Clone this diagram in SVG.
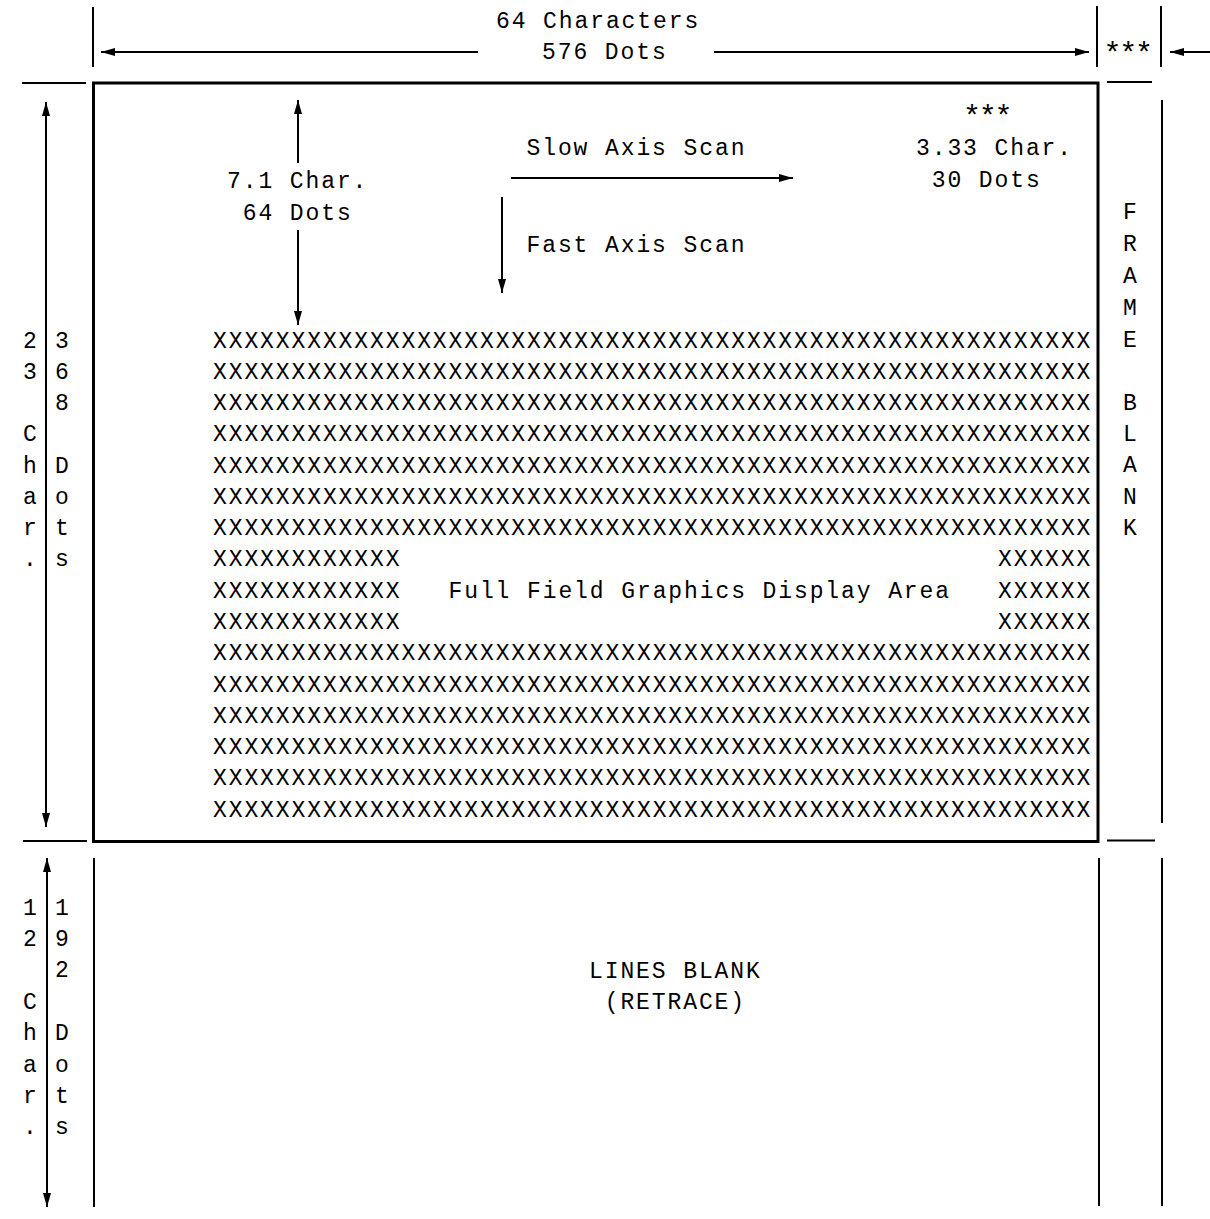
<svg xmlns="http://www.w3.org/2000/svg" width="1210" height="1219" viewBox="0 0 1210 1219">
<style>
.t{font-family:"Liberation Mono","DejaVu Sans Mono",monospace;font-size:23px;letter-spacing:1.9px;fill:#000}
.ast{font-size:30px;letter-spacing:-2.3px}
.l{stroke:#000;stroke-width:2;fill:none}
.b{stroke:#000;stroke-width:3;fill:none}
</style>
<defs>
<marker id="ah" viewBox="0 0 14 8" refX="14" refY="4" markerWidth="14" markerHeight="8" markerUnits="userSpaceOnUse" orient="auto-start-reverse">
<path d="M0,0 L14,4 L0,8 z" fill="#000"/>
</marker>
</defs>
<rect width="1210" height="1219" fill="#fff"/>
<g id="connectors">
<line class="l" x1="93" y1="7" x2="93" y2="67"/>
<line class="l" x1="478" y1="52" x2="101" y2="52" marker-end="url(#ah)"/>
<line class="l" x1="714" y1="52" x2="1089" y2="52" marker-end="url(#ah)"/>
<line class="l" x1="1097" y1="6" x2="1097" y2="67"/>
<line class="l" x1="1161" y1="6" x2="1161" y2="67"/>
<line class="l" x1="1210" y1="52" x2="1170" y2="52" marker-end="url(#ah)"/>
<line class="l" x1="22" y1="83" x2="86" y2="83"/>
<line class="l" x1="1107" y1="82" x2="1152" y2="82"/>
<line class="l" x1="46" y1="102" x2="46" y2="827" marker-start="url(#ah)" marker-end="url(#ah)"/>
<line class="l" x1="1162" y1="100" x2="1162" y2="823"/>
<line class="l" x1="23" y1="841" x2="87" y2="841"/>
<line class="l" x1="1107" y1="840.5" x2="1155" y2="840.5"/>
<line class="l" x1="47" y1="858" x2="47" y2="1207" marker-start="url(#ah)" marker-end="url(#ah)"/>
<line class="l" x1="94" y1="858" x2="94" y2="1207"/>
<line class="l" x1="1099" y1="858" x2="1099" y2="1206"/>
<line class="l" x1="1162" y1="858" x2="1162" y2="1206"/>
<line class="l" x1="298" y1="163" x2="298" y2="100" marker-end="url(#ah)"/>
<line class="l" x1="298" y1="230" x2="298" y2="325" marker-end="url(#ah)"/>
<line class="l" x1="511" y1="178" x2="793" y2="178" marker-end="url(#ah)"/>
<line class="l" x1="502" y1="197" x2="502" y2="293" marker-end="url(#ah)"/>
</g>
<g id="top-dimension">
<text class="t" x="496" y="28">64 Characters</text>
<text class="t" x="542" y="59">576 Dots</text>
<text class="t ast" x="1103.5" y="63">***</text>
</g>
<g id="display-frame">
<rect class="b" x="93.5" y="83" width="1004.5" height="758.5"/>
</g>
<g id="frame-labels">
<text class="t ast" x="963" y="126">***</text>
<text class="t" x="916" y="155">3.33 Char.</text>
<text class="t" x="931.7" y="186.5">30 Dots</text>
<text class="t" x="227" y="187.5">7.1 Char.</text>
<text class="t" x="242.7" y="219.5">64 Dots</text>
<text class="t" x="526.5" y="155">Slow Axis Scan</text>
<text class="t" x="526.5" y="251.5">Fast Axis Scan</text>
</g>
<g id="display-area">
<text class="t" x="213" y="347.5">XXXXXXXXXXXXXXXXXXXXXXXXXXXXXXXXXXXXXXXXXXXXXXXXXXXXXXXX</text>
<text class="t" x="213" y="378.8">XXXXXXXXXXXXXXXXXXXXXXXXXXXXXXXXXXXXXXXXXXXXXXXXXXXXXXXX</text>
<text class="t" x="213" y="410">XXXXXXXXXXXXXXXXXXXXXXXXXXXXXXXXXXXXXXXXXXXXXXXXXXXXXXXX</text>
<text class="t" x="213" y="441.3">XXXXXXXXXXXXXXXXXXXXXXXXXXXXXXXXXXXXXXXXXXXXXXXXXXXXXXXX</text>
<text class="t" x="213" y="472.6">XXXXXXXXXXXXXXXXXXXXXXXXXXXXXXXXXXXXXXXXXXXXXXXXXXXXXXXX</text>
<text class="t" x="213" y="503.9">XXXXXXXXXXXXXXXXXXXXXXXXXXXXXXXXXXXXXXXXXXXXXXXXXXXXXXXX</text>
<text class="t" x="213" y="535.1">XXXXXXXXXXXXXXXXXXXXXXXXXXXXXXXXXXXXXXXXXXXXXXXXXXXXXXXX</text>
<text class="t" x="213" y="566.4">XXXXXXXXXXXX</text>
<text class="t" x="998" y="566.4">XXXXXX</text>
<text class="t" x="213" y="597.7">XXXXXXXXXXXX</text>
<text class="t" x="448.5" y="597.7">Full Field Graphics Display Area</text>
<text class="t" x="998" y="597.7">XXXXXX</text>
<text class="t" x="213" y="629">XXXXXXXXXXXX</text>
<text class="t" x="998" y="629">XXXXXX</text>
<text class="t" x="213" y="660.2">XXXXXXXXXXXXXXXXXXXXXXXXXXXXXXXXXXXXXXXXXXXXXXXXXXXXXXXX</text>
<text class="t" x="213" y="691.5">XXXXXXXXXXXXXXXXXXXXXXXXXXXXXXXXXXXXXXXXXXXXXXXXXXXXXXXX</text>
<text class="t" x="213" y="722.8">XXXXXXXXXXXXXXXXXXXXXXXXXXXXXXXXXXXXXXXXXXXXXXXXXXXXXXXX</text>
<text class="t" x="213" y="754.1">XXXXXXXXXXXXXXXXXXXXXXXXXXXXXXXXXXXXXXXXXXXXXXXXXXXXXXXX</text>
<text class="t" x="213" y="785.3">XXXXXXXXXXXXXXXXXXXXXXXXXXXXXXXXXXXXXXXXXXXXXXXXXXXXXXXX</text>
<text class="t" x="213" y="816.6">XXXXXXXXXXXXXXXXXXXXXXXXXXXXXXXXXXXXXXXXXXXXXXXXXXXXXXXX</text>
</g>
<g id="frame-blank">
<text class="t" x="1123" y="218.5">F</text>
<text class="t" x="1123" y="250.5">R</text>
<text class="t" x="1123" y="282.5">A</text>
<text class="t" x="1123" y="314.5">M</text>
<text class="t" x="1123" y="346.5">E</text>
<text class="t" x="1123" y="409.5">B</text>
<text class="t" x="1123" y="440.8">L</text>
<text class="t" x="1123" y="472.2">A</text>
<text class="t" x="1123" y="503.6">N</text>
<text class="t" x="1123" y="535">K</text>
</g>
<g id="height-active">
<text class="t" x="23" y="347.5">2</text>
<text class="t" x="23" y="378.8">3</text>
<text class="t" x="23" y="441.3">C</text>
<text class="t" x="23" y="472.6">h</text>
<text class="t" x="23" y="503.9">a</text>
<text class="t" x="23" y="535.1">r</text>
<text class="t" x="23" y="566.4">.</text>
<text class="t" x="55" y="347.5">3</text>
<text class="t" x="55" y="378.8">6</text>
<text class="t" x="55" y="410">8</text>
<text class="t" x="55" y="472.6">D</text>
<text class="t" x="55" y="503.9">o</text>
<text class="t" x="55" y="535.1">t</text>
<text class="t" x="55" y="566.4">s</text>
</g>
<g id="height-blank">
<text class="t" x="23" y="914.5">1</text>
<text class="t" x="23" y="945.9">2</text>
<text class="t" x="23" y="1008.7">C</text>
<text class="t" x="23" y="1040.1">h</text>
<text class="t" x="23" y="1071.5">a</text>
<text class="t" x="23" y="1102.9">r</text>
<text class="t" x="23" y="1134.3">.</text>
<text class="t" x="55" y="914.5">1</text>
<text class="t" x="55" y="945.9">9</text>
<text class="t" x="55" y="977.3">2</text>
<text class="t" x="55" y="1040.1">D</text>
<text class="t" x="55" y="1071.5">o</text>
<text class="t" x="55" y="1102.9">t</text>
<text class="t" x="55" y="1134.3">s</text>
</g>
<g id="retrace">
<text class="t" x="589" y="978">LINES BLANK</text>
<text class="t" x="604.7" y="1009">(RETRACE)</text>
</g>
</svg>
